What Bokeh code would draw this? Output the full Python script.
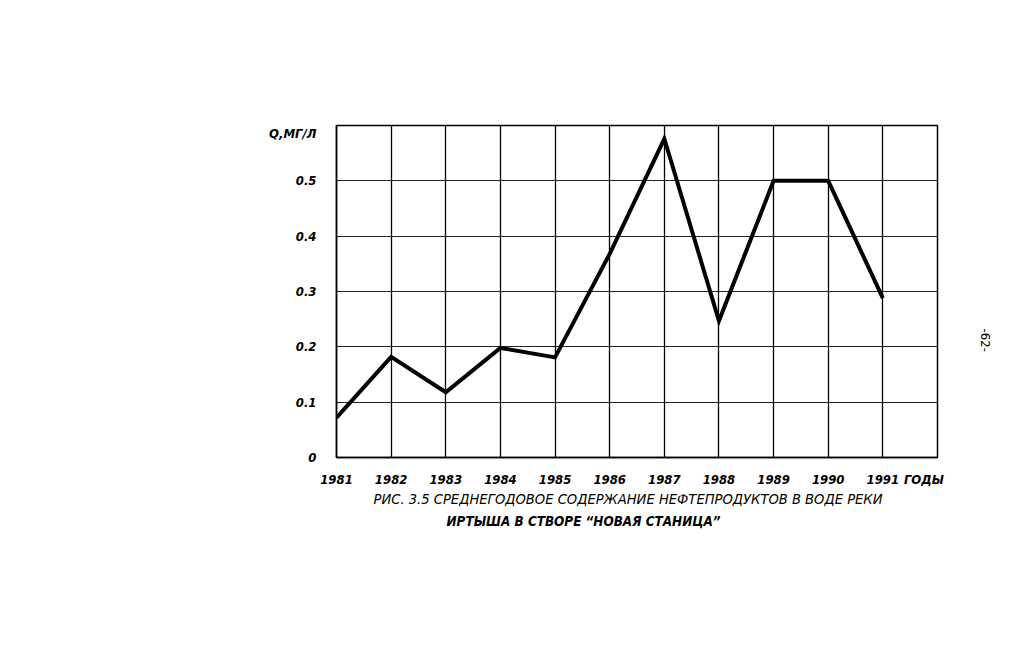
from bokeh.plotting import figure
from bokeh.models import FixedTicker, Range1d, Title, LinearAxis
from bokeh.embed import file_html
from bokeh.resources import INLINE
import math

years = [1981, 1982, 1983, 1984, 1985, 1986, 1987, 1988, 1989, 1990, 1991]
values = [0.072, 0.182, 0.118, 0.198, 0.181, 0.368, 0.576, 0.247, 0.5, 0.5, 0.288]
y_ticks = [0, 0.1, 0.2, 0.3, 0.4, 0.5]
y_tick_labels = ["0", "0.1", "0.2", "0.3", "0.4", "0.5"]
x_tick_labels = [str(y) for y in years]
unit_label = "Q,МГ/Л"
x_axis_label = "ГОДЫ"
caption_1 = "РИС. 3.5 СРЕДНЕГОДОВОЕ СОДЕРЖАНИЕ НЕФТЕПРОДУКТОВ В ВОДЕ РЕКИ"
caption_2 = "ИРТЫША В СТВОРЕ \u201cНОВАЯ СТАНИЦА\u201d"
page_number = "-62-"

FONT = "'Liberation Sans Narrow', 'DejaVu Sans Condensed', 'Liberation Sans', sans-serif"

p = figure(width=1002, height=642, output_backend="svg", toolbar_location=None,
           x_range=Range1d(1981, 1992), y_range=Range1d(0, 0.6),
           min_border_left=336, min_border_right=65, min_border_top=125,
           min_border_bottom=185, background_fill_color="white",
           border_fill_color="white")

p.outline_line_color = "black"
p.outline_line_width = 1.5

# axes (tick labels from the data arrays)
x_ticks = years + [1991.75]
x_over = {y: s for y, s in zip(years, x_tick_labels)}
x_over[1991.75] = x_axis_label
p.xaxis.ticker = FixedTicker(ticks=x_ticks)
p.xaxis.major_label_overrides = x_over
yt = y_ticks + [0.585]
y_over = {t: s for t, s in zip(y_ticks, y_tick_labels)}
y_over[0.585] = unit_label
p.yaxis.ticker = FixedTicker(ticks=yt)
p.yaxis.major_label_overrides = y_over
for ax in (p.xaxis[0], p.yaxis[0]):
    ax.axis_line_color = "black"
    ax.axis_line_width = 1.5
    ax.major_tick_line_color = None
    ax.minor_tick_line_color = None
    ax.major_label_text_font = FONT
    ax.major_label_text_font_style = "bold italic"
    ax.major_label_text_font_size = "13px"
    ax.major_label_text_color = "black"
p.xaxis.major_label_standoff = 8
p.yaxis.major_label_standoff = 14

# page number on the right margin, as a single-tick axis label
pn_y = 0.233
right_ax = LinearAxis(ticker=FixedTicker(ticks=[pn_y]),
                      major_label_overrides={pn_y: page_number},
                      axis_line_color=None, major_tick_line_color=None,
                      minor_tick_line_color=None,
                      major_label_orientation=-math.pi / 2,
                      major_label_standoff=42,
                      major_label_text_font=FONT,
                      major_label_text_font_size="13px",
                      major_label_text_color="black")
p.add_layout(right_ax, "right")

# grid
p.xgrid.ticker = FixedTicker(ticks=years + [1992])
p.ygrid.ticker = FixedTicker(ticks=y_ticks + [0.6])
p.xgrid.grid_line_color = "black"
p.xgrid.grid_line_width = 1.3
p.ygrid.grid_line_color = "#222222"
p.ygrid.grid_line_width = 1.1

# data line
p.line(years, values, line_color="black", line_width=4, line_join="miter")

# caption lines (outside the frame)
t1 = Title(text=caption_1, align="left", offset=37, standoff=-3,
           text_font=FONT, text_font_style="italic", text_font_size="14.6px",
           text_color="black")
t2 = Title(text=caption_2, align="left", offset=110, standoff=12,
           text_font=FONT, text_font_style="bold italic", text_font_size="13.4px",
           text_color="black")
p.add_layout(t1, "below")
p.add_layout(t2, "below")

open("out.html", "w").write(file_html(p, INLINE))
